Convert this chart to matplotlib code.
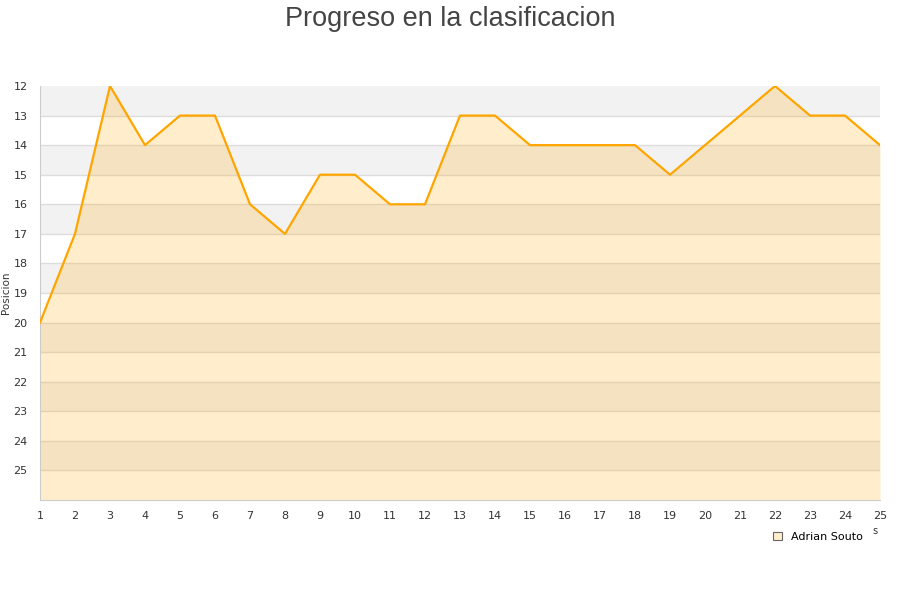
import matplotlib
matplotlib.use('Agg')
import matplotlib.pyplot as plt
from matplotlib.patches import Patch

# datos
jornadas = list(range(1, 26))
posiciones = [20, 17, 12, 14, 13, 13, 16, 17, 15, 15, 16, 16, 13,
              13, 14, 14, 14, 14, 15, 14, 13, 12, 13, 13, 14]
y_ticks = list(range(12, 26))
jugador = 'Adrian Souto'

fig = plt.figure(figsize=(9, 6), dpi=100)
ax = fig.add_axes([40 / 900, 1 - 500 / 600, 840 / 900, 414 / 600])

ax.set_xlim(1, 25)
ax.set_ylim(26, 12)

# franjas alternas del fondo
for y0 in range(12, 26, 2):
    ax.axhspan(y0, y0 + 1, color='#f2f2f2', zorder=0, lw=0)
for y in range(13, 26):
    ax.axhline(y, color='#dddddd', lw=1, zorder=1)

ax.fill_between(jornadas, posiciones, 26, color='#ffa500', alpha=0.2, lw=0, zorder=2)
ax.plot(jornadas, posiciones, color='#ffa500', lw=1.6, zorder=3)

ax.set_xticks(jornadas)
ax.set_yticks(y_ticks)
ax.tick_params(length=0, labelsize=8, colors='#333333', pad=8)
ax.tick_params(axis='y', pad=9)
for s in ['top', 'right']:
    ax.spines[s].set_visible(False)
for s in ['left', 'bottom']:
    ax.spines[s].set_color('#cccccc')
ax.set_ylabel('Posicion', fontsize=7.5, color='#333333')
ax.yaxis.set_label_coords(-0.034, 0.5)

fig.suptitle('Progreso en la clasificacion', fontsize=19.5, family='Liberation Sans',
             color='#444444', y=0.99)

# resto recortado de la etiqueta del eje x
fig.text(875 / 900, 1 - 531 / 600, 's', fontsize=7, color='#333333', ha='center', va='center')

handle = Patch(facecolor='#ffeecc', edgecolor='#666666', lw=0.8)
fig.legend([handle], [jugador], loc='center', bbox_to_anchor=(818 / 900, 1 - 537 / 600),
           frameon=False, fontsize=8, handlelength=0.8, handleheight=0.8, handletextpad=0.8)

fig.savefig('out.png', dpi=100)
